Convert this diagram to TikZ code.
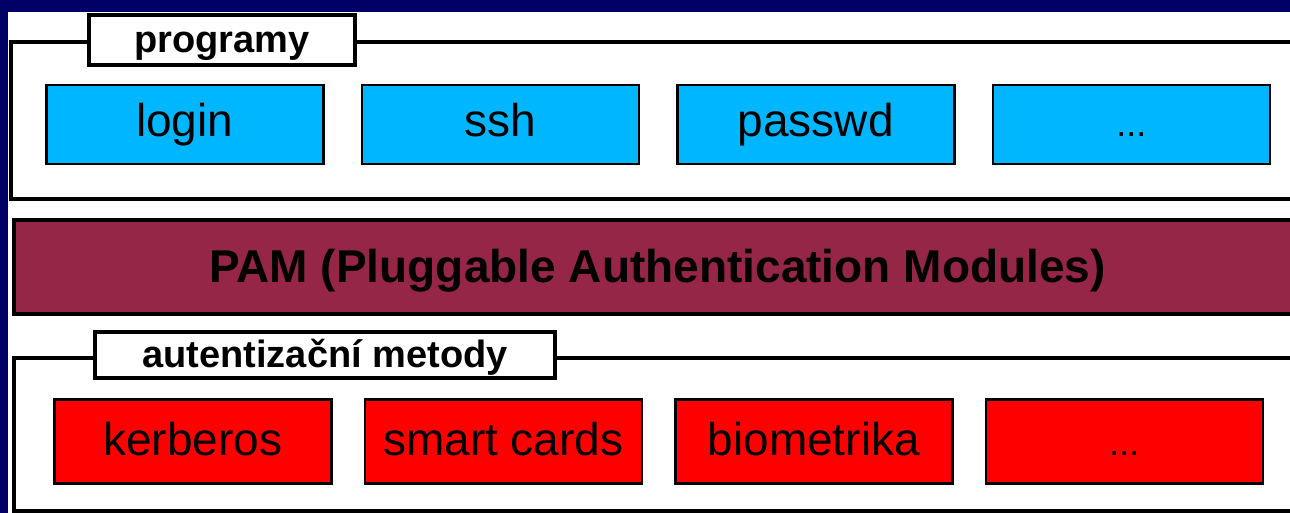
\documentclass[tikz,border=0pt]{standalone}
\usepackage{fontspec}
\setmainfont{Liberation Sans}
\usetikzlibrary{positioning}
\definecolor{slidebg}{RGB}{0,0,102}
\definecolor{progblue}{RGB}{0,183,255}
\definecolor{pamred}{RGB}{150,38,72}
\definecolor{methred}{RGB}{255,0,0}
\tikzset{
	layer frame/.style={line width=2pt},
	layer title/.style={draw,fill=white,line width=2pt,inner sep=0pt,
		font=\fontsize{19}{22}\selectfont\bfseries,text depth=0pt},
	module/.style={draw,line width=1.25pt,inner sep=0pt,
		minimum width=138.5pt,
		font=\fontsize{23}{27}\selectfont},
	program/.style={module,fill=progblue,minimum height=39.5pt,
		text height=17pt,text depth=5pt},
	method/.style={module,fill=methred,minimum height=42pt,
		text height=18pt,text depth=4pt},
	more/.style={font=\fontsize{18}{20}\selectfont},
	pam bar/.style={draw,fill=pamred,line width=2pt,inner sep=0pt,
		minimum width=643.5pt,minimum height=47pt,
		font=\fontsize{23}{27}\selectfont\bfseries,
		text height=16pt,text depth=0pt}
}

\begin{document}
\begin{tikzpicture}[x=0.5pt,y=-0.5pt]
	\useasboundingbox (0,0) rectangle (1290,513);
	\fill[slidebg] (0,0) rectangle (1290,513);
	\fill[white] (8,12) rectangle (1290,513);
	\begin{scope}
		\clip (0,0) rectangle (1290,513);
		% upper layer: programs
		\draw[layer frame] (1310,42.5) -- (11,42.5) -- (11,199) -- (1310,199);
		\node[layer title,minimum width=133pt,minimum height=25pt,text height=13pt] (progtitle) at (222,40) {programy};
		\node[program,anchor=north west] (login) at (45,84) {login};
		\node[program,right=18pt of login] (ssh) {ssh};
		\node[program,right=18pt of ssh] (passwd) {passwd};
		\node[program,more,right=18pt of passwd] (progmore) {...};
		% middle layer
		\node[pam bar,anchor=north west] (pam) at (12,218) {PAM (Pluggable Authentication Modules)};
		% lower layer: authentication methods
		\draw[layer frame] (1310,358) -- (14,358) -- (14,510.5) -- (1310,510.5);
		\node[layer title,minimum width=230pt,minimum height=23pt,text height=12pt] (methtitle) at (325,355) {autentizační metody};
		\node[method,anchor=north west] (kerberos) at (53,398) {kerberos};
		\node[method,right=15.5pt of kerberos] (smartcards) {smart cards};
		\node[method,right=15.5pt of smartcards] (biometrika) {biometrika};
		\node[method,more,right=15.5pt of biometrika] (methmore) {...};
	\end{scope}
\end{tikzpicture}
\end{document}
